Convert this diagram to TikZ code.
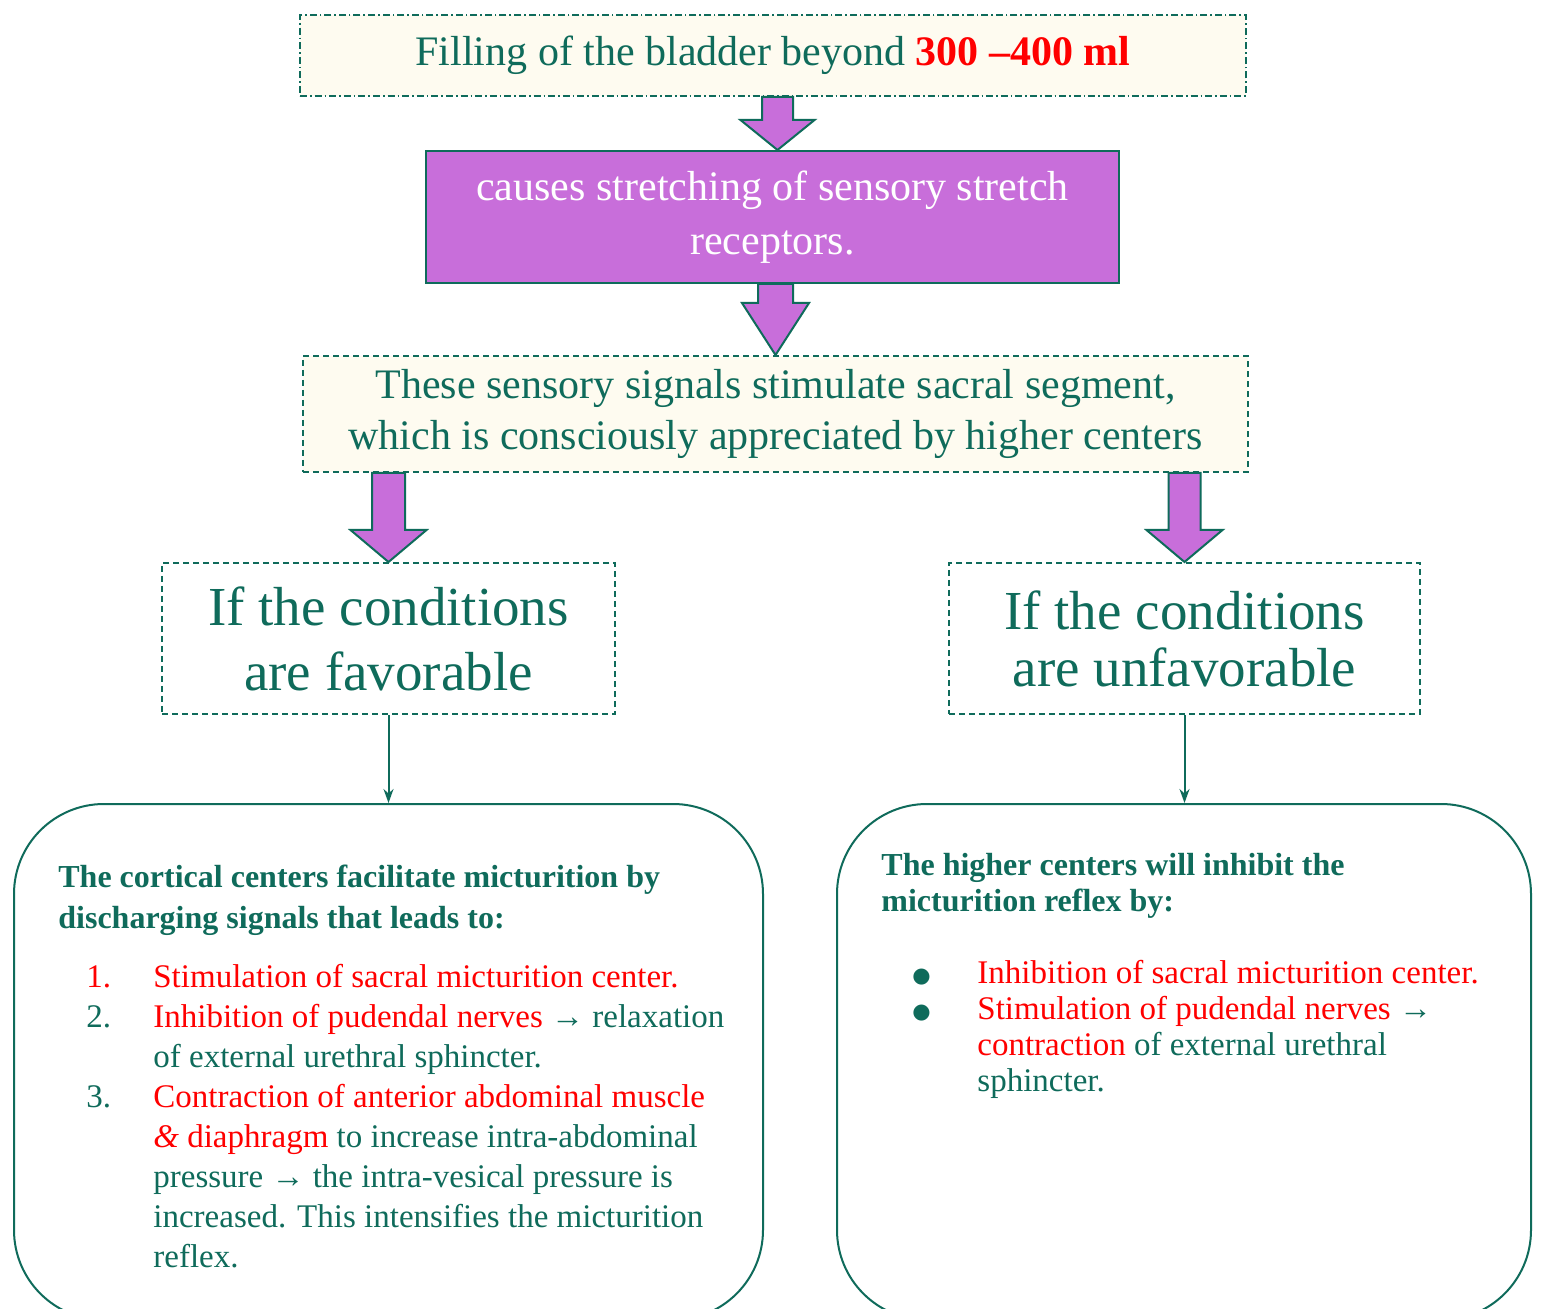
\documentclass[tikz,border=0pt]{standalone}
\usepackage{fontspec}
\setmainfont{Liberation Serif}
\newfontfamily\dejavu{DejaVu Sans}
\usetikzlibrary{calc,arrows.meta}
\definecolor{teal1}{HTML}{0F6B5B}
\definecolor{cream}{HTML}{FEFBF0}
\definecolor{purp}{HTML}{C86EDA}
\definecolor{red1}{HTML}{FF0000}
% #1 from anchor, #2 to anchor, #3 shaft half width, #4 head half width, #5 head length
\newcommand\blockarr[5]{%
  \draw[barrow] let \p1=(#1), \p2=(#2) in
    (\x2-#3,\y1) -- (\x2-#3,\y2+#5) -- (\x2-#4,\y2+#5) -- (\x2,\y2)
    -- (\x2+#4,\y2+#5) -- (\x2+#3,\y2+#5) -- (\x2+#3,\y1) -- cycle;}
\newcommand\numcell[1]{\makebox[33.5pt][l]{#1}}
\newcommand\bulcell{\makebox[32.5pt][l]{\raisebox{0.5pt}{\dejavu\fontsize{10.5}{10.5}\selectfont ●}}}
\begin{document}
\begin{tikzpicture}[x=0.5pt,y=-0.5pt,
  every node/.style={inner sep=0pt},
  frame/.style={draw=teal1, line width=1pt, text=teal1},
  dashbox/.style={frame, dash pattern=on 3pt off 2pt},
  dotdashbox/.style={frame, dash pattern=on 3.5pt off 1.5pt on 0.8pt off 1.5pt},
  rbox/.style={draw=teal1, line width=1pt, rounded corners=45pt},
  barrow/.style={draw=teal1, fill=purp, line width=1pt, line join=miter},
  thinarrow/.style={draw=teal1, line width=1pt, -{Stealth[length=7pt,width=5pt]}},
  body/.style={text=teal1, anchor=base west}
]
\clip (0,0) rectangle (1541,1309);
\fill[white] (0,0) rectangle (1541,1309);

% top box
\node[dotdashbox, fill=cream, minimum width=473pt, minimum height=40.5pt,
  font=\fontsize{21}{25}\selectfont] (top) at (773,55.5)
  {\raisebox{-2pt}{Filling of the bladder beyond {\color{red1}\bfseries 300 –400 ml}}};

% purple box
\node[draw=teal1, line width=1pt, fill=purp, text=white, minimum width=346.5pt,
  minimum height=66pt, align=center, font=\fontsize{21}{27}\selectfont] (str) at (772.5,217)
  {causes stretching of sensory stretch\\receptors.};

% middle box
\node[dashbox, fill=cream, minimum width=472.5pt, minimum height=58pt, align=center,
  font=\fontsize{21}{25.5}\selectfont] (mid) at (775.5,414)
  {These sensory signals stimulate sacral segment,\\which is consciously appreciated by higher centers};

% condition boxes
\node[dashbox, fill=white, minimum width=226.5pt, minimum height=75.5pt, align=center,
  font=\fontsize{27.5}{32.5}\selectfont] (lc) at (388.5,638.5)
  {If the conditions\\are favorable};
\node[dashbox, fill=white, minimum width=235.5pt, minimum height=75.5pt, align=center,
  font=\fontsize{27.5}{28.5}\selectfont] (rc) at (1184.5,638.5)
  {If the conditions\\are unfavorable};

% rounded boxes
\node[rbox, minimum width=374.5pt, minimum height=258pt] (lr) at (388.5,1062) {};
\node[rbox, minimum width=347pt, minimum height=258pt] (rr) at (1184,1062) {};

% block arrows
\blockarr{top.south}{$(str.north)+(5,0)$}{7.75pt}{18.5pt}{15pt}
\blockarr{str.south}{mid.north}{8.75pt}{16.75pt}{26pt}
\blockarr{mid.south}{lc.north}{8.25pt}{19pt}{16pt}
\blockarr{mid.south}{rc.north}{8pt}{19pt}{16pt}

% thin connectors
\draw[thinarrow] (lc.south) -- (lr.north);
\draw[thinarrow] (rc.south) -- (rc.south |- rr.north);

% left content
\node[body, font=\fontsize{16}{20.5}\selectfont\bfseries] (lhead) at (58,887)
  {\begin{tabular}[t]{@{}l@{}}The cortical centers facilitate micturition by\\
   discharging signals that leads to:\end{tabular}};
\node[body, font=\fontsize{16.5}{20}\selectfont] (llist) at (86,987)
  {\begin{tabular}[t]{@{}l@{}l@{}}
   \numcell{\color{red1}1.} & {\color{red1}Stimulation of sacral micturition center.}\\
   \numcell{2.} & {\color{red1}Inhibition of pudendal nerves} → relaxation\\
      & of external urethral sphincter.\\
   \numcell{3.} & {\color{red1}Contraction of anterior abdominal muscle}\\
      & {\color{red1}\textit{\&} diaphragm} to increase intra-abdominal\\
      & pressure → the intra-vesical pressure is\\
      & increased. This intensifies the micturition\\
      & reflex.
   \end{tabular}};

% right content
\node[body, font=\fontsize{16}{18}\selectfont\bfseries] (rhead) at (881,875)
  {\begin{tabular}[t]{@{}l@{}}The higher centers will inhibit the\\
   micturition reflex by:\end{tabular}};
\node[body, font=\fontsize{16.5}{18}\selectfont] (rlist) at (912,983)
  {\begin{tabular}[t]{@{}l@{}l@{}}
   \bulcell & {\color{red1}Inhibition of sacral micturition center.}\\
   \bulcell & {\color{red1}Stimulation of pudendal nerves} →\\
     & {\color{red1}contraction} of external urethral\\
     & sphincter.
   \end{tabular}};
\end{tikzpicture}
\end{document}
